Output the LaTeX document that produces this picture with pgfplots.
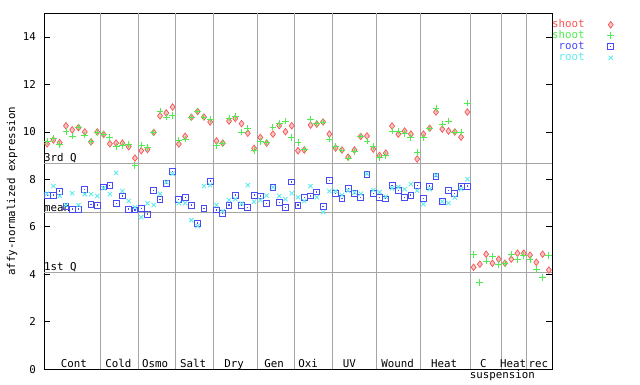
\documentclass[border=0pt]{standalone}
\usepackage{pgfplots}
\pgfplotsset{compat=1.18}
\usepackage{pgfplotstable}
\usepackage{fontspec}
\setmainfont{DejaVu Sans Mono}
\definecolor{cred}{RGB}{245,85,85}
\definecolor{cgreen}{RGB}{80,235,80}
\definecolor{cblue}{RGB}{75,75,245}
\definecolor{ccyan}{RGB}{95,235,235}
\definecolor{cgrid}{RGB}{165,165,165}
\newcommand{\fsz}{\fontsize{10.8}{12}\selectfont}
\pgfdeclareplotmark{sqdot}{%
  \pgfpathrectangle{\pgfpoint{-\pgfplotmarksize}{-\pgfplotmarksize}}{\pgfpoint{2\pgfplotmarksize}{2\pgfplotmarksize}}%
  \pgfusepathqstroke
  \pgfpathrectangle{\pgfpoint{-0.6pt}{-0.6pt}}{\pgfpoint{1.2pt}{1.2pt}}%
  \pgfusepathqfill}

\pgfplotstableread{
i s1 s2 r1 r2
1 9.50 9.60 7.31 7.40
2 9.66 9.73 7.34 7.72
3 9.55 9.47 7.51 7.30
4 10.26 10.02 6.86 6.92
5 10.09 9.83 6.75 7.42
6 10.18 10.21 6.75 6.92
7 10.00 9.87 7.59 7.38
8 9.58 9.59 6.96 7.38
9 10.00 9.97 6.92 7.30
10 9.90 9.91 7.68 7.63
11 9.50 9.78 7.76 7.38
12 9.53 9.38 7.00 8.28
13 9.53 9.42 7.30 7.51
14 9.38 9.47 6.75 7.09
15 8.90 8.59 6.71 6.83
16 9.21 9.45 6.79 6.41
17 9.26 9.35 6.54 7.00
18 9.98 9.98 7.55 6.92
19 10.68 10.88 7.17 7.39
20 10.80 10.63 7.82 7.88
21 11.05 10.71 8.35 8.24
22 9.49 9.66 7.17 7.00
23 9.82 9.70 7.25 7.00
24 10.62 10.61 6.92 6.28
25 10.86 10.88 6.16 6.03
26 10.63 10.63 6.79 7.72
27 10.42 10.51 7.93 7.76
28 9.62 9.42 6.71 6.92
29 9.53 9.53 6.58 6.66
30 10.46 10.59 6.92 7.13
31 10.57 10.64 7.34 7.17
32 10.35 10.00 6.92 6.98
33 9.95 10.13 6.83 7.76
34 9.31 9.22 7.34 7.06
35 9.77 9.59 7.30 7.13
36 9.53 9.56 7.00 7.32
37 9.91 10.21 7.67 7.67
38 10.27 10.35 7.04 7.30
39 10.01 10.46 6.83 7.17
40 10.26 9.77 7.89 7.42
41 9.21 9.57 6.92 7.25
42 9.24 9.28 7.25 7.09
43 10.29 10.51 7.30 7.72
44 10.33 10.36 7.47 7.25
45 10.42 10.42 6.87 6.62
46 9.91 9.70 7.97 7.51
47 9.32 9.38 7.42 7.51
48 9.24 9.24 7.19 7.34
49 8.94 8.90 7.63 7.53
50 9.24 9.19 7.40 7.45
51 9.81 9.83 7.25 7.40
52 9.83 9.62 8.21 8.24
53 9.28 9.38 7.42 7.55
54 9.01 8.94 7.23 7.47
55 9.11 9.02 7.18 7.27
56 10.25 10.04 7.76 7.63
57 9.91 10.04 7.55 7.68
58 10.04 9.95 7.23 7.59
59 9.91 9.78 7.34 7.80
60 8.86 9.15 7.76 7.53
61 9.91 9.78 7.21 6.96
62 10.16 10.16 7.72 7.59
63 10.84 10.98 8.11 8.18
64 10.12 10.33 7.07 7.07
65 10.04 10.46 7.55 7.00
66 10.00 10.00 7.40 7.24
67 9.78 10.00 7.72 7.59
68 10.84 11.22 7.72 8.01
69 4.30 4.85 nan nan
70 4.43 3.67 nan nan
71 4.85 4.56 nan nan
72 4.47 4.77 nan nan
73 4.64 4.43 nan nan
74 4.47 4.47 nan nan
75 4.64 4.85 nan nan
76 4.89 4.64 nan nan
77 4.89 4.81 nan nan
78 4.81 4.64 nan nan
79 4.51 4.22 nan nan
80 4.85 3.88 nan nan
81 4.18 4.81 nan nan
}\datatab

\begin{document}
\begin{tikzpicture}
\begin{axis}[
  scale only axis, width=508pt, height=356pt,
  xmin=0.5, xmax=81.5, ymin=0, ymax=15,
  clip=false,
  font=\fsz,
  xtick=\empty,
  ytick={0,2,...,14},
  /pgf/number format/assume math mode=true,
  yticklabel style={anchor=east, inner sep=0pt, xshift=-8pt, font=\fsz},
  tick style={black, line width=0.8pt},
  major tick length=5.7pt,
  axis line style={black, line width=0.9pt},
  extra x ticks={9.5,15.5,21.5,27.5,34.5,40.5,46.5,53.5,60.5,68.5,73.5,77.5},
  extra x tick labels={},
  extra x tick style={grid=major, major tick length=0pt, major grid style={cgrid, line width=0.9pt}},
  extra y ticks={8.69,6.62,4.09},
  extra y tick labels={},
  extra y tick style={grid=major, major tick length=0pt, major grid style={cgrid, line width=0.9pt}},
  ylabel={affy-normalized expression},
  ylabel style={at={(axis description cs:-0.063,0.5)}, anchor=center, font=\fsz},
  legend style={at={(rel axis cs:1,1)}, anchor=north west, yshift=-5.8pt, draw=none, fill=none,
    inner sep=0pt, column sep=0pt, row sep=0pt, font=\fsz,
    nodes={inner sep=0pt, text height=8pt, text depth=3pt}},
  legend cell align=right,
  legend plot pos=right,
  legend image code/.code={\path[draw=none] (0pt,0pt) -- (30pt,0pt); \draw[#1] plot[only marks] coordinates {(26pt,0pt)};},
]
\addplot[only marks, mark=diamond*, mark size=3.3pt, mark options={draw=cred, fill=cred!35, line width=0.7pt}] table[x=i, y=s1] {\datatab};
\addlegendentry{\textcolor{cred}{shoot}}
\addplot[only marks, mark=+, mark size=3.4pt, mark options={draw=cgreen, line width=0.9pt}] table[x=i, y=s2] {\datatab};
\addlegendentry{\textcolor{cgreen}{shoot}}
\addplot[only marks, mark=sqdot, mark size=2.9pt, mark options={draw=cblue, fill=cblue, line width=0.9pt}] table[x=i, y=r1] {\datatab};
\addlegendentry{\textcolor{cblue}{root}}
\addplot[only marks, mark=x, mark size=3.0pt, mark options={draw=ccyan, line width=0.9pt}] table[x=i, y=r2] {\datatab};
\addlegendentry{\textcolor{ccyan}{root}}

\node[anchor=base west, inner sep=0pt] at (axis cs:0.5,8.69) [yshift=1.2pt] {3rd Q};
\node[anchor=base west, inner sep=0pt] at (axis cs:0.5,6.62) [yshift=0.3pt] {mean};
\node[anchor=base west, inner sep=0pt] at (axis cs:0.5,4.09) [yshift=1.4pt] {1st Q};

\node[anchor=base, inner sep=0pt] at (axis cs:5.25,0) [yshift=1.8pt] {Cont};
\node[anchor=base, inner sep=0pt] at (axis cs:12.35,0) [yshift=1.8pt] {Cold};
\node[anchor=base, inner sep=0pt] at (axis cs:18.2,0) [yshift=1.8pt] {Osmo};
\node[anchor=base, inner sep=0pt] at (axis cs:24.26,0) [yshift=1.8pt] {Salt};
\node[anchor=base, inner sep=0pt] at (axis cs:30.8,0) [yshift=1.8pt] {Dry};
\node[anchor=base, inner sep=0pt] at (axis cs:37.18,0) [yshift=1.8pt] {Gen};
\node[anchor=base, inner sep=0pt] at (axis cs:42.6,0) [yshift=1.8pt] {Oxi};
\node[anchor=base, inner sep=0pt] at (axis cs:49.2,0) [yshift=1.8pt] {UV};
\node[anchor=base, inner sep=0pt] at (axis cs:56.9,0) [yshift=1.8pt] {Wound};
\node[anchor=base, inner sep=0pt] at (axis cs:64.3,0) [yshift=1.8pt] {Heat};
\node[anchor=base, inner sep=0pt] at (axis cs:70.56,0) [yshift=1.8pt] {C};
\node[anchor=base, inner sep=0pt] at (axis cs:75.3,0) [yshift=1.8pt] {Heat};
\node[anchor=base, inner sep=0pt] at (axis cs:79.34,0) [yshift=1.8pt] {rec};
\node[anchor=base, inner sep=0pt] at (axis cs:73.58,0) [yshift=-9.2pt] {suspension};

\coordinate (bl) at (rel axis cs:0,0);
\coordinate (tr) at (rel axis cs:1,1);
\end{axis}
\pgfresetboundingbox
\path[use as bounding box] ([xshift=-44pt,yshift=-14.7pt]bl) rectangle ([xshift=88pt,yshift=13.3pt]tr);
\end{tikzpicture}
\end{document}
